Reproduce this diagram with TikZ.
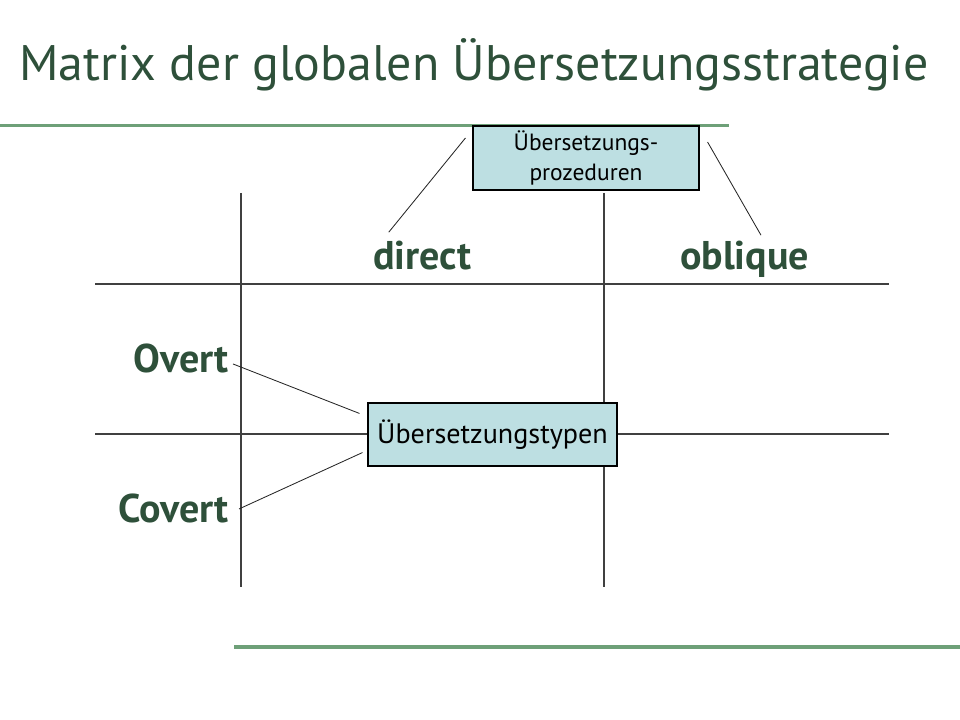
\documentclass[tikz,border=0pt]{standalone}
\usepackage{fontspec}
\setmainfont{PT Sans}
\usetikzlibrary{calc}
\definecolor{titelgruen}{RGB}{46,80,58}
\definecolor{balkengruen}{RGB}{110,160,120}
\definecolor{kastenblau}{RGB}{189,223,226}
\tikzstyle{balken} = [draw=balkengruen, line width=2.8pt]
\tikzstyle{gitter} = [draw=black!75, line width=1pt]
\tikzstyle{verbindung} = [draw=black!85, line width=.6pt]
\tikzstyle{feld} = [inner sep=0pt, text=titelgruen, font=\fontsize{28.5pt}{34pt}\bfseries\selectfont]
\tikzstyle{kasten} = [draw, line width=.8pt, fill=kastenblau, inner sep=0pt, align=center]

\begin{document}
\begin{tikzpicture}[x=0.025cm, y=-0.025cm]
    \useasboundingbox (0,0) rectangle (960,720);
    \draw (19,81) node[anchor=base west, inner sep=0pt, text=titelgruen, font=\fontsize{35.5pt}{42pt}\selectfont] (titel) {Matrix der globalen Übersetzungsstrategie};
    \draw[balken] (0,125.5) -- (729,125.5);
    \draw[balken] (234,647) -- (960,647);
    \draw[gitter] (241,193) -- (241,587);
    \draw[gitter] (604,193) -- (604,587);
    \draw[gitter] (95,284) -- (889,284);
    \draw[gitter] (95,434) -- (889,434);
    \draw (586,158) node[kasten, minimum width=226*0.025cm, minimum height=64*0.025cm, font=\fontsize{16.7pt}{21.3pt}\selectfont] (proz) {Übersetzungs-\\prozeduren};
    \draw (492.5,434.5) node[kasten, minimum width=249*0.025cm, minimum height=63*0.025cm, font=\fontsize{20pt}{24pt}\selectfont] (typ) {Übersetzungstypen};
    \draw (422,270) node[feld, anchor=base] (direkt) {direct};
    \draw (744.5,270) node[feld, anchor=base] (obl) {oblique};
    \draw (229,373) node[feld, anchor=base east] (ov) {Overt};
    \draw (229,523) node[feld, anchor=base east] (cov) {Covert};
    \draw[verbindung] ($(direkt.north west)+(16,-9)$) -- ($(proz.west)+(-7,-20)$);
    \draw[verbindung] ($(obl.north)+(16.5,-6)$) -- ($(proz.east)+(8,-16)$);
    \draw[verbindung] ($(ov.east)+(4,5)$) -- ($(typ.north west)+(-8,11)$);
    \draw[verbindung] ($(cov.east)+(10,0)$) -- ($(typ.south west)+(-5,-14)$);
\end{tikzpicture}
\end{document}
